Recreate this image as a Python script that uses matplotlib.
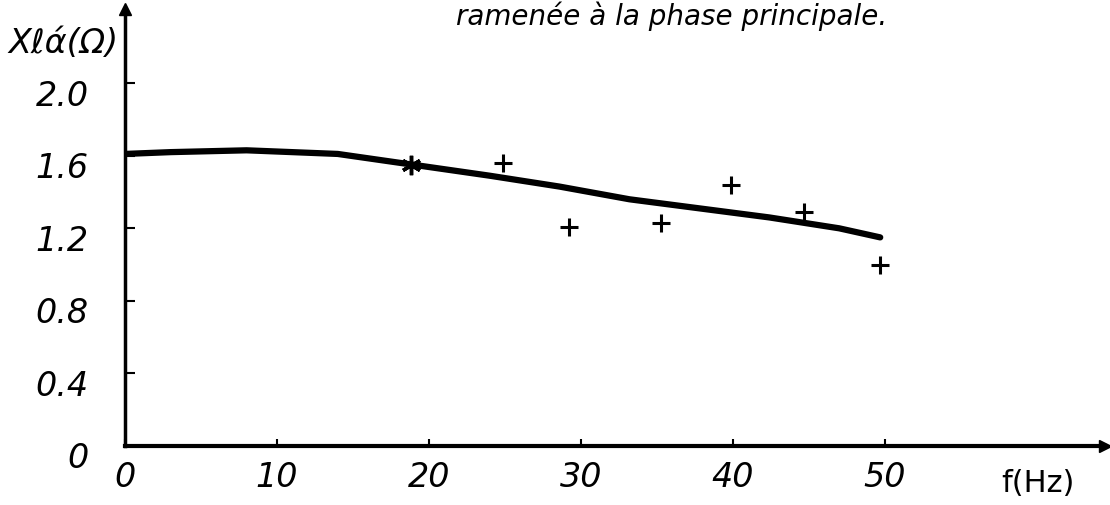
import matplotlib
matplotlib.use("Agg")
import matplotlib.pyplot as plt
from matplotlib.transforms import ScaledTranslation

# fitted curve of the reactance vs frequency
curve_f = [0, 3, 8, 14, 19, 24, 28.6, 33.2, 37.8, 42.4, 47, 49.7]
curve_x = [1.61, 1.62, 1.63, 1.61, 1.55, 1.49, 1.43, 1.36, 1.31, 1.26, 1.20, 1.15]

# measured points
star_f = [18.8]
star_x = [1.55]
meas_f = [24.9, 29.2, 35.3, 39.9, 44.7, 49.7]
meas_x = [1.56, 1.21, 1.23, 1.44, 1.29, 1.00]

xticks = [0, 10, 20, 30, 40, 50]
yticks = [0, 0.4, 0.8, 1.2, 1.6, 2.0]
ytick_labels = ["0", "0.4", "0.8", "1.2", "1.6", "2.0"]

fig = plt.figure(figsize=(11.1, 5.06), dpi=100)
ax = fig.add_axes([0.1126, 0.1166, 0.883, 0.864])
ax.set_xlim(0, 64.5)
ax.set_ylim(0, 2.41)

for s in ["top", "right"]:
    ax.spines[s].set_visible(False)
ax.spines["left"].set_linewidth(2.5)
ax.spines["bottom"].set_linewidth(3)

# arrow heads at the end of both axes
ax.plot(1, 0, marker=">", ms=9, color="black", transform=ax.transAxes, clip_on=False)
ax.plot(0, 1, marker="^", ms=9, color="black", transform=ax.transAxes, clip_on=False)

ax.plot(curve_f, curve_x, color="black", lw=4.5, solid_capstyle="round")
ax.plot(star_f, star_x, linestyle="none", marker=(6, 2, 0), ms=14, mew=2.5, color="black")
ax.plot(meas_f, meas_x, linestyle="none", marker="+", ms=13, mew=2.2, color="black")

tick_font = dict(fontsize=24, style="italic", family="DejaVu Sans")
ax.set_xticks(xticks)
ax.set_xticklabels([str(t) for t in xticks], **tick_font)
ax.set_yticks(yticks)
ax.set_yticklabels(ytick_labels, **tick_font)
ax.tick_params(axis="x", direction="in", length=5, width=1.5, pad=10)
ax.tick_params(axis="y", direction="in", length=7, width=1.5, pad=26)

# y labels sit a little below their ticks
shift = ScaledTranslation(0, -6 / 72, fig.dpi_scale_trans)
for lbl in ax.get_yticklabels():
    lbl.set_transform(lbl.get_transform() + shift)

fig.text(0.008, 0.915, "Xℓά(Ω)", fontsize=24, style="italic", ha="left", va="center")
fig.text(0.902, 0.045, "f(Hz)", fontsize=22, ha="left", va="center")
fig.text(0.605, 0.998, "ramenée à la phase principale.", fontsize=20, style="italic",
         ha="center", va="top")

fig.savefig("out.png", dpi=100)
